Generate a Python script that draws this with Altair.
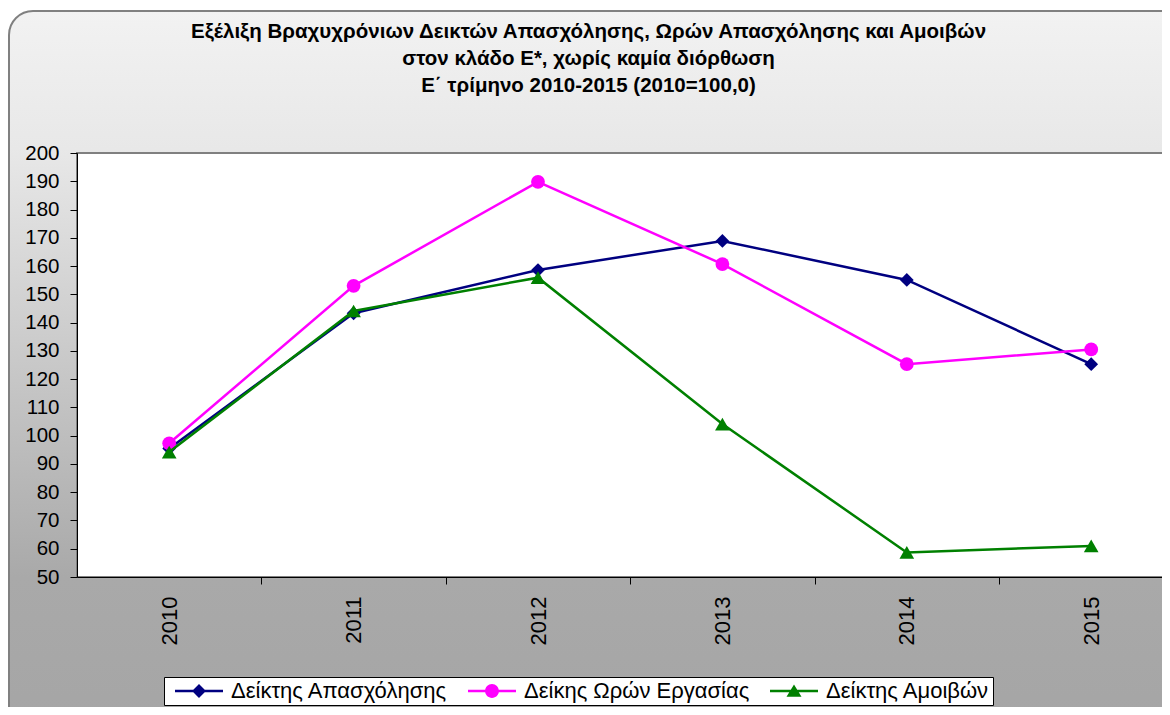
import altair as alt
import pandas as pd

# ---- data ----
years = [2010, 2011, 2012, 2013, 2014, 2015]
employment = [95.5, 143.3, 158.6, 168.9, 155.1, 125.3]
hours = [97.3, 153.0, 189.8, 160.7, 125.3, 130.5]
wages = [94.2, 144.1, 155.9, 104.1, 58.7, 61.0]
series_names = ["Δείκτης Απασχόλησης", "Δείκης Ωρών Εργασίας", "Δείκτης Αμοιβών"]
series_colors = ["#000080", "#ff00ff", "#008000"]
marker_shapes = ["diamond", "circle", "triangle-up"]
y_ticks = list(range(50, 201, 10))
title_lines = [
    "Εξέλιξη Βραχυχρόνιων Δεικτών Απασχόλησης, Ωρών Απασχόλησης και Αμοιβών",
    "στον κλάδο Ε*, χωρίς καμία διόρθωση",
    "Ε΄ τρίμηνο 2010-2015 (2010=100,0)",
]

# legend symbols: line + marker (custom paths)
legend_paths = [
    "M-1,-0.4H15V0.4H-1Z M7,-2.33L9.33,0L7,2.33L4.67,0Z",
    "M-1,-0.4H15V0.4H-1Z M9.3,0A2.3,2.3 0 1,1 4.7,0A2.3,2.3 0 1,1 9.3,0Z",
    "M-1,-0.4H15V0.4H-1Z M7,-2.2L9.5,1.9L4.5,1.9Z",
]

rows = []
for name, vals in zip(series_names, [employment, hours, wages]):
    for yr, v in zip(years, vals):
        rows.append({"year": yr, "value": v, "series": name})
df = pd.DataFrame(rows)
one = pd.DataFrame({"k": [0]})

W, H = 1085, 424
FONT = "Liberation Sans"
step = 184.4
xscale = alt.Scale(domain=[2009.5, 2009.5 + W / step], nice=False, zero=False)
yscale = alt.Scale(domain=[50, 200], nice=False, zero=False)

yaxis = alt.Axis(values=y_ticks, title=None, grid=False, tickSize=7, tickColor="black",
                 domainColor="black", labelFont=FONT, labelFontSize=20.5, labelColor="black",
                 labelPadding=11, labelFlush=False, zindex=1)
label_axis = alt.Axis(values=years, format="d", labelAngle=-90, ticks=False, tickSize=0,
                      domain=False, labelPadding=19, labelFont=FONT, labelFontSize=22,
                      labelColor="black", title=None, grid=False, labelFlush=False,
                      orient="bottom", zindex=1)
tick_axis = alt.Axis(values=[2010.5, 2011.5, 2012.5, 2013.5, 2014.5], labels=False,
                     ticks=True, tickSize=7, tickColor="black", domain=True,
                     domainColor="black", title=None, grid=False, orient="bottom", zindex=1)

gradient = alt.LinearGradient(
    gradient="linear", x1=0, x2=0, y1=0, y2=1,
    stops=[
        alt.GradientStop(color="#f2f2f2", offset=0),
        alt.GradientStop(color="#e8e8e8", offset=0.18),
        alt.GradientStop(color="#a9a9a9", offset=0.74),
        alt.GradientStop(color="#a4a4a4", offset=1),
    ],
)

bg = alt.Chart(one).mark_rect(fill=gradient, stroke="#808080", strokeWidth=2,
                              cornerRadius=24).encode(
    x=alt.value(-68), x2=alt.value(W + 60), y=alt.value(-142), y2=alt.value(H + 200))
plotbg = alt.Chart(one).mark_rect(fill="white", stroke="#808080", strokeWidth=2).encode(
    x=alt.value(0), x2=alt.value(W + 30), y=alt.value(0), y2=alt.value(H))

layers = [bg, plotbg]
for i, (name, color, shape) in enumerate(zip(series_names, series_colors, marker_shapes)):
    base = alt.Chart(df).transform_filter(alt.datum.series == name)
    line = base.mark_line(color=color, strokeWidth=2.5).encode(
        x=alt.X("year:Q", scale=xscale, axis=label_axis if i == 0 else None),
        y=alt.Y("value:Q", scale=yscale, axis=yaxis),
    )
    pts = base.mark_point(filled=True, shape=shape, size=215 if shape == "triangle-up" else 190,
                          color=color, opacity=1).encode(
        x=alt.X("year:Q", scale=xscale, axis=tick_axis if i == 0 else None),
        y=alt.Y("value:Q", scale=yscale, axis=yaxis),
    )
    layers += [line, pts]

leg = alt.Legend(orient="none", legendX=87, legendY=524, direction="horizontal",
                 fillColor="white", strokeColor="black", padding=3, symbolSize=36,
                 symbolStrokeWidth=0, symbolOpacity=1, labelFont=FONT, labelFontSize=22,
                 labelColor="black", labelOffset=42, columnPadding=12, title=None,
                 labelLimit=0, zindex=1)
legend_layer = alt.Chart(df).mark_point(filled=True, size=36, opacity=1).encode(
    x=alt.X("year:Q", scale=xscale, axis=None),
    y=alt.value(3000),
    color=alt.Color("series:N", scale=alt.Scale(domain=series_names, range=series_colors), legend=leg),
    shape=alt.Shape("series:N", scale=alt.Scale(domain=series_names, range=legend_paths), legend=leg),
)
layers.append(legend_layer)

chart = alt.layer(*layers).resolve_axis(x="independent").properties(
    width=W, height=H,
    padding={"left": 69, "top": 145, "right": 0, "bottom": 130},
    autosize=alt.AutoSizeParams(type="none"),
    title=alt.TitleParams(text=title_lines, font=FONT, fontSize=20.5, fontWeight="bold",
                          lineHeight=27, anchor="middle", frame="group", offset=-86,
                          dx=-31, color="black"),
).configure_view(stroke=None)

chart.save("out.html", embed_options={"renderer": "svg", "actions": False})
